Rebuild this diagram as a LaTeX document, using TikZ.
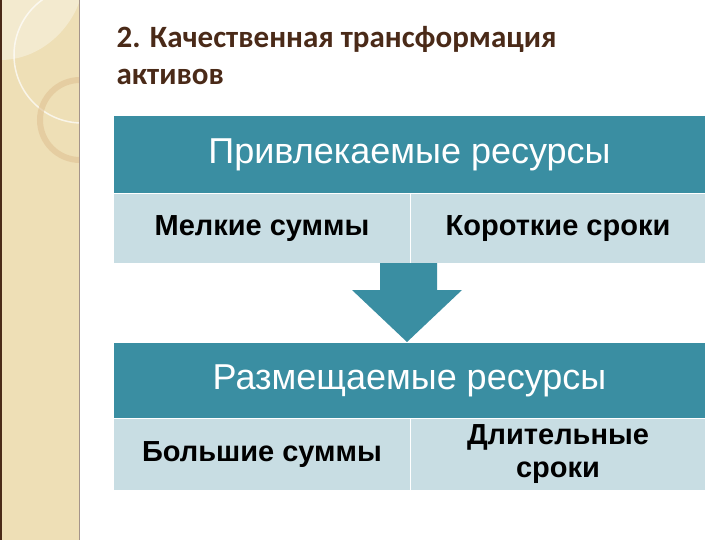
\documentclass[tikz,border=0pt]{standalone}
\usepackage{fontspec}
\setmainfont{Liberation Sans}
\newfontfamily\titlefont{Carlito}
\begin{document}
\begin{tikzpicture}[x=1pt,y=-1pt,
 hdr/.style={fill=teal0,draw=white,line width=1pt},
 row/.style={fill=row0,draw=white,line width=1pt},
 htxt/.style={text=white,font=\fontsize{36}{40}\selectfont},
 rtxt/.style={text=black,font=\bfseries\fontsize{29}{33}\selectfont,align=center}]
\definecolor{teal0}{HTML}{3A8EA2}
\definecolor{row0}{HTML}{C8DDE3}
\definecolor{beige}{HTML}{EEDFB6}
\definecolor{brown0}{HTML}{4A2A18}
\useasboundingbox (0,0) rectangle (720,540);
\fill[white] (0,0) rectangle (720,540);
\fill[beige] (0,0) rectangle (79,540);
\begin{scope}
\clip (0,0) rectangle (79,540);
\fill[white,opacity=0.35] (80,0) -- (0,0) -- (0,60) .. controls (40,60) and (70,30) .. (80,0);
\draw[white,opacity=0.7,line width=1.5pt] (82,55) circle (68);
\draw[brown!30!beige,opacity=0.6,line width=6pt] (80,120) circle (40);
\end{scope}
\draw[brown0,line width=2pt] (1,0) -- (1,540);
\draw[brown0!50,line width=0.8pt] (79,0) -- (79,540);
\node[anchor=west,text=brown0,font=\titlefont\bfseries\fontsize{31}{37}\selectfont,align=left] (title) at (113,56) {2. Качественная трансформация\\активов};
\node[hdr,minimum width=592,minimum height=78,anchor=north west] (h1) at (113,115) {};
\node[htxt] at (h1) {Привлекаемые ресурсы};
\node[row,minimum width=297,minimum height=70,anchor=north west] (a1) at (113,193) {};
\node[row,minimum width=295,minimum height=70,anchor=north west] (b1) at (410,193) {};
\node[rtxt] at (a1) {Мелкие суммы};
\node[rtxt] at (b1) {Короткие сроки};
\fill[teal0] (380,263) -- (437,263) -- (437,290) -- (462,290) -- (407,342) -- (352,290) -- (380,290) -- cycle;
\node[hdr,minimum width=592,minimum height=76,anchor=north west] (h2) at (113,342) {};
\node[htxt] at (h2) {Размещаемые ресурсы};
\node[row,minimum width=297,minimum height=72,anchor=north west] (a2) at (113,418) {};
\node[row,minimum width=295,minimum height=72,anchor=north west] (b2) at (410,418) {};
\node[rtxt] at (a2) {Большие суммы};
\node[rtxt] at (b2) {Длительные\\сроки};
\end{tikzpicture}
\end{document}
